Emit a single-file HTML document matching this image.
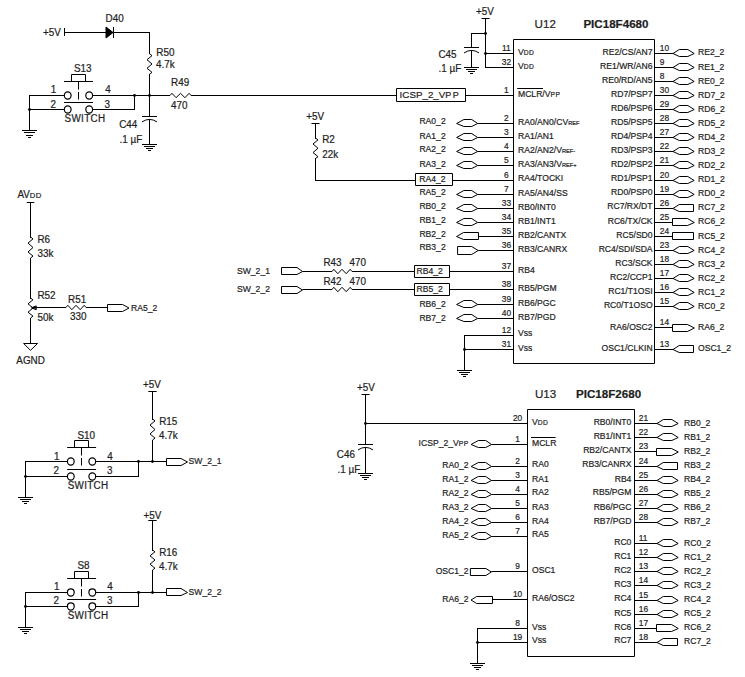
<!DOCTYPE html>
<html><head><meta charset="utf-8"><style>
html,body{margin:0;padding:0;background:#fff;}
svg{display:block;}
text{fill:#1e1e1e;stroke:#1e1e1e;stroke-width:0.2px;font-family:"Liberation Sans",sans-serif;}
</style></head><body>
<svg width="745" height="677" viewBox="0 0 745 677">
<rect width="745" height="677" fill="#fff"/>
<g stroke="#000" stroke-width="1" fill="none">
<text transform="translate(43,36.4) scale(1,1.03)" font-size="9.9">+5V</text>
<line x1="64.5" y1="28" x2="64.5" y2="36"/>
<line x1="64" y1="32.5" x2="106" y2="32.5"/>
<polygon points="106,27 106,38 113,32.5" fill="#000"/>
<line x1="113.5" y1="27" x2="113.5" y2="38"/>
<line x1="113" y1="32.5" x2="150" y2="32.5"/>
<text transform="translate(105.6,22.4) scale(1,1.03)" font-size="9.9">D40</text>
<line x1="149.5" y1="32" x2="149.5" y2="54"/>
<polyline points="149.5,53.8 152.0,55.635999999999996 147.0,59.716 152.0,64.0 147.0,68.284 152.0,72.364 149.5,74.2" fill="none"/>
<line x1="149.5" y1="74" x2="149.5" y2="117"/>
<text transform="translate(156.3,56) scale(1,1.03)" font-size="9.9">R50</text>
<text transform="translate(156.0,67.6) scale(1,1.03)" font-size="9.9">4.7k</text>
<line x1="64" y1="81.5" x2="93" y2="81.5"/>
<polyline points="71.5,81.5 71.5,74.5 85.5,74.5 85.5,81.5" fill="none"/>
<line x1="78.5" y1="82" x2="78.5" y2="89.5"/>
<line x1="78.5" y1="92" x2="78.5" y2="99.5"/>
<line x1="64" y1="102.5" x2="93" y2="102.5"/>
<ellipse cx="67.7" cy="95.5" rx="3.4" ry="3.6" fill="none" stroke-width="1.2"/>
<ellipse cx="67.7" cy="109.5" rx="3.4" ry="3.6" fill="none" stroke-width="1.2"/>
<ellipse cx="89.2" cy="95.5" rx="3.4" ry="3.6" fill="none" stroke-width="1.2"/>
<ellipse cx="89.2" cy="109.5" rx="3.4" ry="3.6" fill="none" stroke-width="1.2"/>
<text transform="translate(74.0,71.7) scale(1,1.03)" font-size="9.9">S13</text>
<text transform="translate(64.6,121.8) scale(1,1.03)" font-size="9.9" letter-spacing="0.3">SWITCH</text>
<text transform="translate(50.8,92.8) scale(1,1.03)" font-size="9.9">1</text>
<text transform="translate(50.4,107.7) scale(1,1.03)" font-size="9.9">2</text>
<text transform="translate(105.2,92.8) scale(1,1.03)" font-size="9.9">4</text>
<text transform="translate(104.4,107.7) scale(1,1.03)" font-size="9.9">3</text>
<line x1="29" y1="95.5" x2="64.3" y2="95.5"/>
<line x1="29" y1="109.5" x2="64.3" y2="109.5"/>
<line x1="29.5" y1="95" x2="29.5" y2="131"/>
<line x1="22" y1="130.50" x2="37" y2="130.50"/>
<line x1="24" y1="132.50" x2="35" y2="132.50"/>
<line x1="26" y1="135.50" x2="33" y2="135.50"/>
<line x1="28" y1="137.50" x2="31" y2="137.50"/>
<circle cx="29.5" cy="109.5" r="1.4" fill="#000" stroke="none"/>
<line x1="92.7" y1="95.5" x2="170" y2="95.5"/>
<line x1="92.7" y1="109.5" x2="134.5" y2="109.5"/>
<line x1="134.5" y1="95" x2="134.5" y2="110"/>
<circle cx="134.5" cy="95.5" r="1.4" fill="#000" stroke="none"/>
<circle cx="149.5" cy="95.5" r="1.4" fill="#000" stroke="none"/>
<polyline points="170,95.5 171.89,93.3 176.09,97.7 180.5,93.3 184.91,97.7 189.11,93.3 191.0,95.5" fill="none"/>
<line x1="191" y1="95.5" x2="396.5" y2="95.5"/>
<text transform="translate(171,86) scale(1,1.03)" font-size="9.9">R49</text>
<text transform="translate(171,109) scale(1,1.03)" font-size="9.9">470</text>
<line x1="142.0" y1="116.5" x2="157.0" y2="116.5"/>
<path d="M142.0,121.9 Q149.5,116.9 157.0,121.9" fill="none"/>
<line x1="149.5" y1="119.4" x2="149.5" y2="145"/>
<line x1="142" y1="144.50" x2="157" y2="144.50"/>
<line x1="144" y1="146.50" x2="155" y2="146.50"/>
<line x1="146" y1="148.50" x2="153" y2="148.50"/>
<line x1="148" y1="150.50" x2="151" y2="150.50"/>
<text transform="translate(119.2,127.7) scale(1,1.03)" font-size="9.9">C44</text>
<text transform="translate(119.6,142.6) scale(1,1.03)" font-size="9.9">.1 µF</text>
<polygon points="396.5,88.5 465.5,88.5 465.5,101.5 396.5,101.5" fill="none"/>
<text x="399.6" y="97.7" font-size="9.8">ICSP_2_V<tspan font-size="9" letter-spacing="1.4">PP</tspan></text>
<line x1="465.5" y1="95.5" x2="513.5" y2="95.5"/>
<text transform="translate(476,15.2) scale(1,1.03)" font-size="9.9">+5V</text>
<line x1="481.5" y1="18.5" x2="489.5" y2="18.5"/>
<line x1="485.5" y1="18" x2="485.5" y2="68"/>
<line x1="471" y1="33.5" x2="485.5" y2="33.5"/>
<circle cx="485.5" cy="33.5" r="1.4" fill="#000" stroke="none"/>
<circle cx="485.5" cy="53.5" r="1.4" fill="#000" stroke="none"/>
<line x1="471.5" y1="33" x2="471.5" y2="48"/>
<line x1="464.0" y1="47.5" x2="479.0" y2="47.5"/>
<path d="M464.0,52.9 Q471.5,47.9 479.0,52.9" fill="none"/>
<line x1="471.5" y1="50.4" x2="471.5" y2="68"/>
<line x1="464" y1="67.50" x2="479" y2="67.50"/>
<line x1="466" y1="69.50" x2="477" y2="69.50"/>
<line x1="468" y1="71.50" x2="475" y2="71.50"/>
<line x1="470" y1="73.50" x2="473" y2="73.50"/>
<line x1="485" y1="53.5" x2="513.5" y2="53.5"/>
<line x1="485" y1="67.5" x2="513.5" y2="67.5"/>
<text transform="translate(438.4,58) scale(1,1.03)" font-size="9.9">C45</text>
<text transform="translate(438.6,72) scale(1,1.03)" font-size="9.9">.1 µF</text>
<text transform="translate(306.2,120) scale(1,1.03)" font-size="9.9">+5V</text>
<line x1="311.5" y1="123.5" x2="319.5" y2="123.5"/>
<line x1="315.5" y1="123" x2="315.5" y2="139"/>
<polyline points="315.5,138.0 318.0,139.845 313.0,143.945 318.0,148.25 313.0,152.555 318.0,156.655 315.5,158.5" fill="none"/>
<line x1="315.5" y1="158" x2="315.5" y2="181"/>
<line x1="315" y1="180.5" x2="415.5" y2="180.5"/>
<text transform="translate(322.2,143) scale(1,1.03)" font-size="9.9">R2</text>
<text transform="translate(322.2,158) scale(1,1.03)" font-size="9.9">22k</text>
<text transform="translate(17.4,198) scale(1,1.03)" font-size="9.9">AV<tspan font-size="7.72" letter-spacing="0.45">DD</tspan></text>
<line x1="26.7" y1="202.5" x2="34.3" y2="202.5"/>
<line x1="30.5" y1="202" x2="30.5" y2="238"/>
<polyline points="30.5,237 33.0,238.89 28.0,243.09 33.0,247.5 28.0,251.91 33.0,256.11 30.5,258.0" fill="none"/>
<line x1="30.5" y1="258" x2="30.5" y2="299"/>
<polyline points="30.5,298 33.0,299.8 28.0,303.8 33.0,308.0 28.0,312.2 33.0,316.2 30.5,318.0" fill="none"/>
<line x1="30.5" y1="318" x2="30.5" y2="344"/>
<polygon points="23.6,343.5 37.6,343.5 30.5,350.3" fill="none"/>
<text transform="translate(16.3,364) scale(1,1.03)" font-size="9.9">AGND</text>
<text transform="translate(37.4,243) scale(1,1.03)" font-size="9.9">R6</text>
<text transform="translate(37.4,257.3) scale(1,1.03)" font-size="9.9">33k</text>
<text transform="translate(37.4,299) scale(1,1.03)" font-size="9.9">R52</text>
<text transform="translate(37.4,321) scale(1,1.03)" font-size="9.9">50k</text>
<polygon points="31.4,307.8 36.2,305.9 36.2,309.7" fill="#555"/>
<line x1="33" y1="307.5" x2="66" y2="307.5"/>
<polyline points="66,307.5 67.8,305.3 71.8,309.7 76.0,305.3 80.2,309.7 84.2,305.3 86.0,307.5" fill="none"/>
<line x1="86" y1="307.5" x2="107.5" y2="307.5"/>
<polygon points="107.5,304.5 122.5,304.5 129.0,308.0 122.5,311.5 107.5,311.5" fill="none"/>
<text transform="translate(68,303) scale(1,1.03)" font-size="9.9">R51</text>
<text transform="translate(70,320) scale(1,1.03)" font-size="9.9">330</text>
<text x="131" y="310.5" font-size="8.6">RA5_2</text>
<text x="237" y="273.6" font-size="8.6">SW_2_1</text>
<polygon points="281.5,267.5 297.0,267.5 302.5,271.5 297.0,274.5 281.5,274.5" fill="none"/>
<line x1="302.5" y1="271.5" x2="332" y2="271.5"/>
<polyline points="332,271.5 333.8,269.3 337.8,273.7 342.0,269.3 346.2,273.7 350.2,269.3 352.0,271.5" fill="none"/>
<line x1="352" y1="271.5" x2="414.5" y2="271.5"/>
<text transform="translate(323.4,266.3) scale(1,1.03)" font-size="9.9">R43</text>
<text transform="translate(349.4,266.3) scale(1,1.03)" font-size="9.9">470</text>
<text x="237" y="291.8" font-size="8.6">SW_2_2</text>
<polygon points="281.5,286.5 297.0,286.5 302.5,290.0 297.0,293.5 281.5,293.5" fill="none"/>
<line x1="302.5" y1="289.5" x2="332" y2="289.5"/>
<polyline points="332,289.5 333.8,287.3 337.8,291.7 342.0,287.3 346.2,291.7 350.2,287.3 352.0,289.5" fill="none"/>
<line x1="352" y1="289.5" x2="414.5" y2="289.5"/>
<text transform="translate(323.4,285) scale(1,1.03)" font-size="9.9">R42</text>
<text transform="translate(349.4,285) scale(1,1.03)" font-size="9.9">470</text>
<line x1="67.1" y1="447.5" x2="96.1" y2="447.5"/>
<polyline points="74.5,447.5 74.5,440.5 88.5,440.5 88.5,447.5" fill="none"/>
<line x1="81.5" y1="448" x2="81.5" y2="455.5"/>
<line x1="81.5" y1="458" x2="81.5" y2="465.5"/>
<line x1="67.1" y1="469.5" x2="96.1" y2="469.5"/>
<ellipse cx="70.8" cy="461.5" rx="3.4" ry="3.6" fill="none" stroke-width="1.2"/>
<ellipse cx="70.8" cy="476.5" rx="3.4" ry="3.6" fill="none" stroke-width="1.2"/>
<ellipse cx="92.3" cy="461.5" rx="3.4" ry="3.6" fill="none" stroke-width="1.2"/>
<ellipse cx="92.3" cy="476.5" rx="3.4" ry="3.6" fill="none" stroke-width="1.2"/>
<text transform="translate(77.5,439) scale(1,1.03)" font-size="9.9">S10</text>
<text transform="translate(67.69999999999999,488.9) scale(1,1.03)" font-size="9.9" letter-spacing="0.3">SWITCH</text>
<text transform="translate(54.0,460.1) scale(1,1.03)" font-size="9.9">1</text>
<text transform="translate(53.6,474.0) scale(1,1.03)" font-size="9.9">2</text>
<text transform="translate(107.2,460.1) scale(1,1.03)" font-size="9.9">4</text>
<text transform="translate(107.0,474.0) scale(1,1.03)" font-size="9.9">3</text>
<line x1="25" y1="461.5" x2="67.4" y2="461.5"/>
<line x1="25" y1="476.5" x2="67.4" y2="476.5"/>
<line x1="25.5" y1="461" x2="25.5" y2="498"/>
<line x1="18" y1="497.50" x2="33" y2="497.50"/>
<line x1="20" y1="499.50" x2="31" y2="499.50"/>
<line x1="22" y1="501.50" x2="29" y2="501.50"/>
<line x1="24" y1="503.50" x2="27" y2="503.50"/>
<circle cx="25.5" cy="476.5" r="1.4" fill="#000" stroke="none"/>
<line x1="95.8" y1="461.5" x2="166" y2="461.5"/>
<line x1="95.8" y1="476.5" x2="138.5" y2="476.5"/>
<line x1="138.5" y1="461" x2="138.5" y2="477"/>
<circle cx="138.5" cy="461.5" r="1.4" fill="#000" stroke="none"/>
<circle cx="152.5" cy="461.5" r="1.4" fill="#000" stroke="none"/>
<text transform="translate(143,387.8) scale(1,1.03)" font-size="9.9">+5V</text>
<line x1="148.3" y1="391.5" x2="156.7" y2="391.5"/>
<line x1="152.5" y1="391" x2="152.5" y2="420"/>
<polyline points="152.5,419 155.0,420.89 150.0,425.09 155.0,429.5 150.0,433.91 155.0,438.11 152.5,440.0" fill="none"/>
<line x1="152.5" y1="440" x2="152.5" y2="462"/>
<text transform="translate(159.2,425) scale(1,1.03)" font-size="9.9">R15</text>
<text transform="translate(158.9,439) scale(1,1.03)" font-size="9.9">4.7k</text>
<polygon points="166.5,458.5 181.0,458.5 187.5,462.0 181.0,465.5 166.5,465.5" fill="none"/>
<text x="188.6" y="464.2" font-size="8.6">SW_2_1</text>
<line x1="67.1" y1="578.5" x2="96.1" y2="578.5"/>
<polyline points="74.5,578.5 74.5,571.5 88.5,571.5 88.5,578.5" fill="none"/>
<line x1="81.5" y1="579" x2="81.5" y2="586.5"/>
<line x1="81.5" y1="589" x2="81.5" y2="596.5"/>
<line x1="67.1" y1="599.5" x2="96.1" y2="599.5"/>
<ellipse cx="70.8" cy="592.5" rx="3.4" ry="3.6" fill="none" stroke-width="1.2"/>
<ellipse cx="70.8" cy="606.5" rx="3.4" ry="3.6" fill="none" stroke-width="1.2"/>
<ellipse cx="92.3" cy="592.5" rx="3.4" ry="3.6" fill="none" stroke-width="1.2"/>
<ellipse cx="92.3" cy="606.5" rx="3.4" ry="3.6" fill="none" stroke-width="1.2"/>
<text transform="translate(77.5,569) scale(1,1.03)" font-size="9.9">S8</text>
<text transform="translate(67.69999999999999,618.9) scale(1,1.03)" font-size="9.9" letter-spacing="0.3">SWITCH</text>
<text transform="translate(54.0,590.1) scale(1,1.03)" font-size="9.9">1</text>
<text transform="translate(53.6,604.0) scale(1,1.03)" font-size="9.9">2</text>
<text transform="translate(107.2,590.1) scale(1,1.03)" font-size="9.9">4</text>
<text transform="translate(107.0,604.0) scale(1,1.03)" font-size="9.9">3</text>
<line x1="25" y1="592.5" x2="67.4" y2="592.5"/>
<line x1="25" y1="606.5" x2="67.4" y2="606.5"/>
<line x1="25.5" y1="592" x2="25.5" y2="628"/>
<line x1="18" y1="627.50" x2="33" y2="627.50"/>
<line x1="20" y1="629.50" x2="31" y2="629.50"/>
<line x1="22" y1="631.50" x2="29" y2="631.50"/>
<line x1="24" y1="633.50" x2="27" y2="633.50"/>
<circle cx="25.5" cy="606.5" r="1.4" fill="#000" stroke="none"/>
<line x1="95.8" y1="592.5" x2="166" y2="592.5"/>
<line x1="95.8" y1="606.5" x2="138.5" y2="606.5"/>
<line x1="138.5" y1="592" x2="138.5" y2="607"/>
<circle cx="138.5" cy="592.5" r="1.4" fill="#000" stroke="none"/>
<circle cx="152.5" cy="592.5" r="1.4" fill="#000" stroke="none"/>
<text transform="translate(143.4,518.5) scale(1,1.03)" font-size="9.9">+5V</text>
<line x1="148.3" y1="520.5" x2="156.7" y2="520.5"/>
<line x1="152.5" y1="520" x2="152.5" y2="551"/>
<polyline points="152.5,550 155.0,551.8 150.0,555.8 155.0,560.0 150.0,564.2 155.0,568.2 152.5,570.0" fill="none"/>
<line x1="152.5" y1="570" x2="152.5" y2="593"/>
<text transform="translate(159.2,556) scale(1,1.03)" font-size="9.9">R16</text>
<text transform="translate(158.9,570) scale(1,1.03)" font-size="9.9">4.7k</text>
<polygon points="166.5,588.5 181.0,588.5 187.5,592.5 181.0,595.5 166.5,595.5" fill="none"/>
<text x="188.6" y="595.0" font-size="8.6">SW_2_2</text>
<polygon points="513.5,39.5 654.5,39.5 654.5,363.5 513.5,363.5" fill="none"/>
<text x="534.6" y="28.2" font-size="11.6">U12</text>
<text x="583.4" y="28.2" font-size="11.6" font-weight="bold">PIC18F4680</text>
<text x="506.4" y="51.2" font-size="8.4" text-anchor="middle">11</text>
<text x="518.0" y="54.9" font-size="8.6">V<tspan font-size="6.71" letter-spacing="0.45">DD</tspan></text>
<text x="506.4" y="65.2" font-size="8.4" text-anchor="middle">32</text>
<text x="518.0" y="68.9" font-size="8.6">V<tspan font-size="6.71" letter-spacing="0.45">DD</tspan></text>
<text x="506.4" y="93.2" font-size="8.4" text-anchor="middle">1</text>
<text x="518.0" y="96.9" font-size="8.6"><tspan>MCLR</tspan>/V<tspan font-size="6.71" letter-spacing="0.45">PP</tspan></text>
<text x="506.4" y="121.2" font-size="8.4" text-anchor="middle">2</text>
<text x="518.0" y="124.9" font-size="8.6">RA0/AN0/CV<tspan font-size="5.68">REF</tspan></text>
<polygon points="477.7,123.5 471.7,119.5 463.9,119.5 456.59999999999997,123.5 463.9,126.5 471.7,126.5" fill="none"/>
<line x1="477.7" y1="123.5" x2="513.5" y2="123.5"/>
<text x="419.4" y="124.0" font-size="8.6">RA0_2</text>
<text x="506.4" y="135.2" font-size="8.4" text-anchor="middle">3</text>
<text x="518.0" y="138.9" font-size="8.6">RA1/AN1</text>
<polygon points="477.7,137.5 471.7,133.5 463.9,133.5 456.59999999999997,137.5 463.9,140.5 471.7,140.5" fill="none"/>
<line x1="477.7" y1="137.5" x2="513.5" y2="137.5"/>
<text x="419.4" y="139.0" font-size="8.6">RA1_2</text>
<text x="506.4" y="149.2" font-size="8.4" text-anchor="middle">4</text>
<text x="518.0" y="152.9" font-size="8.6">RA2/AN2/V<tspan font-size="5.68">REF-</tspan></text>
<polygon points="477.7,151.5 471.7,147.5 463.9,147.5 456.59999999999997,151.5 463.9,154.5 471.7,154.5" fill="none"/>
<line x1="477.7" y1="151.5" x2="513.5" y2="151.5"/>
<text x="419.4" y="152.1" font-size="8.6">RA2_2</text>
<text x="506.4" y="163.2" font-size="8.4" text-anchor="middle">5</text>
<text x="518.0" y="166.9" font-size="8.6">RA3/AN3/V<tspan font-size="5.68">REF+</tspan></text>
<polygon points="477.7,165.5 471.7,161.5 463.9,161.5 456.59999999999997,165.5 463.9,168.5 471.7,168.5" fill="none"/>
<line x1="477.7" y1="165.5" x2="513.5" y2="165.5"/>
<text x="419.4" y="166.9" font-size="8.6">RA3_2</text>
<text x="506.4" y="178.2" font-size="8.4" text-anchor="middle">6</text>
<text x="518.0" y="180.9" font-size="8.6">RA4/TOCKI</text>
<text x="506.4" y="192.2" font-size="8.4" text-anchor="middle">7</text>
<text x="518.0" y="195.9" font-size="8.6">RA5/AN4/SS</text>
<polygon points="477.7,194.5 471.7,190.5 463.9,190.5 456.59999999999997,194.5 463.9,197.5 471.7,197.5" fill="none"/>
<line x1="477.7" y1="194.5" x2="513.5" y2="194.5"/>
<text x="419.4" y="195.1" font-size="8.6">RA5_2</text>
<text x="506.4" y="206.2" font-size="8.4" text-anchor="middle">33</text>
<text x="518.0" y="209.9" font-size="8.6">RB0/INT0</text>
<polygon points="477.7,208.5 471.7,204.5 463.9,204.5 456.59999999999997,208.5 463.9,211.5 471.7,211.5" fill="none"/>
<line x1="477.7" y1="208.5" x2="513.5" y2="208.5"/>
<text x="419.4" y="208.9" font-size="8.6">RB0_2</text>
<text x="506.4" y="220.2" font-size="8.4" text-anchor="middle">34</text>
<text x="518.0" y="223.9" font-size="8.6">RB1/INT1</text>
<polygon points="477.7,222.5 471.7,218.5 463.9,218.5 456.59999999999997,222.5 463.9,225.5 471.7,225.5" fill="none"/>
<line x1="477.7" y1="222.5" x2="513.5" y2="222.5"/>
<text x="419.4" y="222.8" font-size="8.6">RB1_2</text>
<text x="506.4" y="234.2" font-size="8.4" text-anchor="middle">35</text>
<text x="518.0" y="237.9" font-size="8.6">RB2/CANTX</text>
<polygon points="478.5,232.5 463.5,232.5 456.5,236.5 463.5,239.5 478.5,239.5" fill="none"/>
<line x1="478.5" y1="236.5" x2="513.5" y2="236.5"/>
<text x="419.4" y="236.7" font-size="8.6">RB2_2</text>
<text x="506.4" y="248.2" font-size="8.4" text-anchor="middle">36</text>
<text x="518.0" y="251.9" font-size="8.6">RB3/CANRX</text>
<polygon points="478.2,250.5 471.6,246.5 457.6,246.5 457.6,254.5 471.6,254.5" fill="none"/>
<line x1="478.2" y1="250.5" x2="513.5" y2="250.5"/>
<text x="419.4" y="250.4" font-size="8.6">RB3_2</text>
<text x="506.4" y="269.2" font-size="8.4" text-anchor="middle">37</text>
<text x="518.0" y="272.9" font-size="8.6">RB4</text>
<text x="506.4" y="287.2" font-size="8.4" text-anchor="middle">38</text>
<text x="518.0" y="290.9" font-size="8.6">RB5/PGM</text>
<text x="506.4" y="302.2" font-size="8.4" text-anchor="middle">39</text>
<text x="518.0" y="305.9" font-size="8.6">RB6/PGC</text>
<polygon points="477.7,304.5 471.7,300.5 463.9,300.5 456.59999999999997,304.5 463.9,307.5 471.7,307.5" fill="none"/>
<line x1="477.7" y1="304.5" x2="513.5" y2="304.5"/>
<text x="419.4" y="307.0" font-size="8.6">RB6_2</text>
<text x="506.4" y="316.2" font-size="8.4" text-anchor="middle">40</text>
<text x="518.0" y="319.9" font-size="8.6">RB7/PGD</text>
<polygon points="477.7,318.5 471.7,314.5 463.9,314.5 456.59999999999997,318.5 463.9,321.5 471.7,321.5" fill="none"/>
<line x1="477.7" y1="318.5" x2="513.5" y2="318.5"/>
<text x="419.4" y="320.9" font-size="8.6">RB7_2</text>
<text x="506.4" y="333.2" font-size="8.4" text-anchor="middle">12</text>
<text x="518.0" y="335.9" font-size="8.6">V<tspan font-size="8.60">ss</tspan></text>
<text x="506.4" y="347.2" font-size="8.4" text-anchor="middle">31</text>
<text x="518.0" y="350.9" font-size="8.6">V<tspan font-size="8.60">ss</tspan></text>
<line x1="517.2" y1="88.5" x2="543" y2="88.5"/>
<polygon points="415.5,173.5 452.5,173.5 452.5,185.5 415.5,185.5" fill="none"/>
<text x="419.3" y="182" font-size="8.6">RA4_2</text>
<line x1="452.5" y1="180.5" x2="513.5" y2="180.5"/>
<polygon points="414.5,265.5 449.5,265.5 449.5,277.5 414.5,277.5" fill="none"/>
<text x="416.6" y="274" font-size="8.6">RB4_2</text>
<line x1="449.5" y1="271.5" x2="513.5" y2="271.5"/>
<polygon points="414.5,283.5 449.5,283.5 449.5,295.5 414.5,295.5" fill="none"/>
<text x="416.6" y="292" font-size="8.6">RB5_2</text>
<line x1="449.5" y1="289.5" x2="513.5" y2="289.5"/>
<line x1="464" y1="335.5" x2="513.5" y2="335.5"/>
<line x1="464" y1="349.5" x2="513.5" y2="349.5"/>
<line x1="464.5" y1="335" x2="464.5" y2="371"/>
<circle cx="464.5" cy="349.5" r="1.4" fill="#000" stroke="none"/>
<line x1="457" y1="370.50" x2="472" y2="370.50"/>
<line x1="459" y1="372.50" x2="470" y2="372.50"/>
<line x1="461" y1="374.50" x2="468" y2="374.50"/>
<line x1="463" y1="376.50" x2="466" y2="376.50"/>
<text x="659.8" y="51" font-size="8.4">10</text>
<text x="652.6" y="54.9" font-size="8.6" text-anchor="end">RE2/CS/AN7</text>
<line x1="654.5" y1="53.5" x2="673.0" y2="53.5"/>
<polygon points="673.0,53.5 679.3,49.5 687.8,49.5 694.2,53.5 687.8,56.5 679.3,56.5" fill="none"/>
<text x="698.0" y="54.7" font-size="8.6">RE2_2</text>
<text x="659.8" y="65" font-size="8.4">9</text>
<text x="652.6" y="68.9" font-size="8.6" text-anchor="end">RE1/WR/AN6</text>
<line x1="654.5" y1="67.5" x2="673.0" y2="67.5"/>
<polygon points="673.0,67.5 679.3,63.5 687.8,63.5 694.2,67.5 687.8,70.5 679.3,70.5" fill="none"/>
<text x="698.0" y="69.8" font-size="8.6">RE1_2</text>
<text x="659.8" y="79" font-size="8.4">8</text>
<text x="652.6" y="82.9" font-size="8.6" text-anchor="end">RE0/RD/AN5</text>
<line x1="654.5" y1="81.5" x2="673.0" y2="81.5"/>
<polygon points="673.0,81.5 679.3,77.5 687.8,77.5 694.2,81.5 687.8,84.5 679.3,84.5" fill="none"/>
<text x="698.0" y="84.0" font-size="8.6">RE0_2</text>
<text x="659.8" y="93" font-size="8.4">30</text>
<text x="652.6" y="96.9" font-size="8.6" text-anchor="end">RD7/PSP7</text>
<line x1="654.5" y1="95.5" x2="673.0" y2="95.5"/>
<polygon points="673.0,95.5 679.3,91.5 687.8,91.5 694.2,95.5 687.8,98.5 679.3,98.5" fill="none"/>
<text x="698.0" y="98.2" font-size="8.6">RD7_2</text>
<text x="659.8" y="107" font-size="8.4">29</text>
<text x="652.6" y="110.9" font-size="8.6" text-anchor="end">RD6/PSP6</text>
<line x1="654.5" y1="109.5" x2="673.0" y2="109.5"/>
<polygon points="673.0,109.5 679.3,105.5 687.8,105.5 694.2,109.5 687.8,112.5 679.3,112.5" fill="none"/>
<text x="698.0" y="111.9" font-size="8.6">RD6_2</text>
<text x="659.8" y="121" font-size="8.4">28</text>
<text x="652.6" y="124.9" font-size="8.6" text-anchor="end">RD5/PSP5</text>
<line x1="654.5" y1="123.5" x2="673.0" y2="123.5"/>
<polygon points="673.0,123.5 679.3,119.5 687.8,119.5 694.2,123.5 687.8,126.5 679.3,126.5" fill="none"/>
<text x="698.0" y="126.0" font-size="8.6">RD5_2</text>
<text x="659.8" y="135" font-size="8.4">27</text>
<text x="652.6" y="138.9" font-size="8.6" text-anchor="end">RD4/PSP4</text>
<line x1="654.5" y1="137.5" x2="673.0" y2="137.5"/>
<polygon points="673.0,137.5 679.3,133.5 687.8,133.5 694.2,137.5 687.8,140.5 679.3,140.5" fill="none"/>
<text x="698.0" y="140.0" font-size="8.6">RD4_2</text>
<text x="659.8" y="149" font-size="8.4">22</text>
<text x="652.6" y="152.9" font-size="8.6" text-anchor="end">RD3/PSP3</text>
<line x1="654.5" y1="151.5" x2="673.0" y2="151.5"/>
<polygon points="673.0,151.5 679.3,147.5 687.8,147.5 694.2,151.5 687.8,154.5 679.3,154.5" fill="none"/>
<text x="698.0" y="154.0" font-size="8.6">RD3_2</text>
<text x="659.8" y="163" font-size="8.4">21</text>
<text x="652.6" y="166.9" font-size="8.6" text-anchor="end">RD2/PSP2</text>
<line x1="654.5" y1="165.5" x2="673.0" y2="165.5"/>
<polygon points="673.0,165.5 679.3,161.5 687.8,161.5 694.2,165.5 687.8,168.5 679.3,168.5" fill="none"/>
<text x="698.0" y="167.9" font-size="8.6">RD2_2</text>
<text x="659.8" y="178" font-size="8.4">20</text>
<text x="652.6" y="181.0" font-size="8.6" text-anchor="end">RD1/PSP1</text>
<line x1="654.5" y1="180.5" x2="673.0" y2="180.5"/>
<polygon points="673.0,180.5 679.3,176.5 687.8,176.5 694.2,180.5 687.8,183.5 679.3,183.5" fill="none"/>
<text x="698.0" y="182.0" font-size="8.6">RD1_2</text>
<text x="659.8" y="192" font-size="8.4">19</text>
<text x="652.6" y="195.4" font-size="8.6" text-anchor="end">RD0/PSP0</text>
<line x1="654.5" y1="194.5" x2="673.0" y2="194.5"/>
<polygon points="673.0,194.5 679.3,190.5 687.8,190.5 694.2,194.5 687.8,197.5 679.3,197.5" fill="none"/>
<text x="698.0" y="196.0" font-size="8.6">RD0_2</text>
<text x="659.8" y="206" font-size="8.4">26</text>
<text x="652.6" y="209.4" font-size="8.6" text-anchor="end">RC7/RX/DT</text>
<line x1="654.5" y1="208.5" x2="673.0" y2="208.5"/>
<polygon points="673.0,208.5 679.2,204.5 693.5,204.5 693.5,211.5 679.2,211.5" fill="none"/>
<text x="698.0" y="210.0" font-size="8.6">RC7_2</text>
<text x="659.8" y="220" font-size="8.4">25</text>
<text x="652.6" y="223.9" font-size="8.6" text-anchor="end">RC6/TX/CK</text>
<line x1="654.5" y1="222.5" x2="672.5" y2="222.5"/>
<polygon points="672.5,218.5 687.5,218.5 694.3,222.5 687.5,225.5 672.5,225.5" fill="none"/>
<text x="698.0" y="224.1" font-size="8.6">RC6_2</text>
<text x="659.8" y="234" font-size="8.4">24</text>
<text x="652.6" y="237.9" font-size="8.6" text-anchor="end">RC5/SD0</text>
<line x1="654.5" y1="236.5" x2="672.5" y2="236.5"/>
<polygon points="672.5,232.5 693.5,232.5 693.5,239.5 672.5,239.5" fill="none"/>
<text x="698.0" y="239.0" font-size="8.6">RC5_2</text>
<text x="659.8" y="248" font-size="8.4">23</text>
<text x="652.6" y="251.9" font-size="8.6" text-anchor="end">RC4/SDI/SDA</text>
<line x1="654.5" y1="250.5" x2="673.0" y2="250.5"/>
<polygon points="673.0,250.5 679.3,246.5 687.8,246.5 694.2,250.5 687.8,253.5 679.3,253.5" fill="none"/>
<text x="698.0" y="253.2" font-size="8.6">RC4_2</text>
<text x="659.8" y="262" font-size="8.4">18</text>
<text x="652.6" y="265.9" font-size="8.6" text-anchor="end">RC3/SCK</text>
<line x1="654.5" y1="264.5" x2="673.0" y2="264.5"/>
<polygon points="673.0,264.5 679.3,260.5 687.8,260.5 694.2,264.5 687.8,267.5 679.3,267.5" fill="none"/>
<text x="698.0" y="267.1" font-size="8.6">RC3_2</text>
<text x="659.8" y="276" font-size="8.4">17</text>
<text x="652.6" y="279.9" font-size="8.6" text-anchor="end">RC2/CCP1</text>
<line x1="654.5" y1="278.5" x2="673.0" y2="278.5"/>
<polygon points="673.0,278.5 679.3,274.5 687.8,274.5 694.2,278.5 687.8,281.5 679.3,281.5" fill="none"/>
<text x="698.0" y="281.2" font-size="8.6">RC2_2</text>
<text x="659.8" y="290" font-size="8.4">16</text>
<text x="652.6" y="293.9" font-size="8.6" text-anchor="end">RC1/T1OSI</text>
<line x1="654.5" y1="292.5" x2="673.0" y2="292.5"/>
<polygon points="673.0,292.5 679.3,288.5 687.8,288.5 694.2,292.5 687.8,295.5 679.3,295.5" fill="none"/>
<text x="698.0" y="295.2" font-size="8.6">RC1_2</text>
<text x="659.8" y="304" font-size="8.4">15</text>
<text x="652.6" y="307.9" font-size="8.6" text-anchor="end">RC0/T1OSO</text>
<line x1="654.5" y1="306.5" x2="673.0" y2="306.5"/>
<polygon points="673.0,306.5 679.3,302.5 687.8,302.5 694.2,306.5 687.8,309.5 679.3,309.5" fill="none"/>
<text x="698.0" y="309.0" font-size="8.6">RC0_2</text>
<text x="659.8" y="325" font-size="8.4">14</text>
<text x="652.6" y="329.6" font-size="8.6" text-anchor="end">RA6/OSC2</text>
<line x1="654.5" y1="327.5" x2="672.5" y2="327.5"/>
<polygon points="672.5,324.5 687.5,324.5 694.3,328.0 687.5,331.5 672.5,331.5" fill="none"/>
<text x="698.0" y="330.0" font-size="8.6">RA6_2</text>
<text x="659.8" y="347" font-size="8.4">13</text>
<text x="652.6" y="350.9" font-size="8.6" text-anchor="end">OSC1/CLKIN</text>
<line x1="654.5" y1="349.5" x2="673.0" y2="349.5"/>
<polygon points="673.0,349.5 679.2,345.5 693.5,345.5 693.5,352.5 679.2,352.5" fill="none"/>
<text x="698.0" y="350.8" font-size="8.6">OSC1_2</text>
<polygon points="527.5,409.5 634.5,409.5 634.5,656.5 527.5,656.5" fill="none"/>
<text x="535" y="397.8" font-size="11.6">U13</text>
<text x="576" y="397.8" font-size="11.6" font-weight="bold">PIC18F2680</text>
<text transform="translate(357,391) scale(1,1.03)" font-size="9.9">+5V</text>
<line x1="361.5" y1="394.5" x2="369.5" y2="394.5"/>
<line x1="365.5" y1="394" x2="365.5" y2="445"/>
<circle cx="365.5" cy="423.5" r="1.4" fill="#000" stroke="none"/>
<line x1="365" y1="423.5" x2="527.5" y2="423.5"/>
<line x1="358.0" y1="444.5" x2="373.0" y2="444.5"/>
<path d="M358.0,449.9 Q365.5,444.9 373.0,449.9" fill="none"/>
<line x1="365.5" y1="447.4" x2="365.5" y2="474"/>
<line x1="358" y1="473.50" x2="373" y2="473.50"/>
<line x1="360" y1="475.50" x2="371" y2="475.50"/>
<line x1="362" y1="477.50" x2="369" y2="477.50"/>
<line x1="364" y1="479.50" x2="367" y2="479.50"/>
<text transform="translate(336.8,458) scale(1,1.03)" font-size="9.9">C46</text>
<text transform="translate(337.5,472.6) scale(1,1.03)" font-size="9.9">.1 µF</text>
<text x="517.6" y="421.2" font-size="8.4" text-anchor="middle">20</text>
<text x="532.0" y="424.9" font-size="8.6">V<tspan font-size="6.71" letter-spacing="0.45">DD</tspan></text>
<text x="517.6" y="442.2" font-size="8.4" text-anchor="middle">1</text>
<text x="532.0" y="445.9" font-size="8.6">MCLR</text>
<polygon points="491.5,444.5 485.7,440.5 478.3,440.5 471.1,444.5 478.3,447.5 485.7,447.5" fill="none"/>
<line x1="491.5" y1="444.5" x2="527.5" y2="444.5"/>
<text x="468.6" y="446.1" font-size="8.6" text-anchor="end">ICSP_2_V<tspan font-size="6.71" letter-spacing="0.45">PP</tspan></text>
<text x="517.6" y="464.2" font-size="8.4" text-anchor="middle">2</text>
<text x="532.0" y="467.1" font-size="8.6">RA0</text>
<polygon points="491.5,466.5 485.7,462.5 478.3,462.5 471.1,466.5 478.3,469.5 485.7,469.5" fill="none"/>
<line x1="491.5" y1="466.5" x2="527.5" y2="466.5"/>
<text x="468.6" y="468.1" font-size="8.6" text-anchor="end">RA0_2</text>
<text x="517.6" y="478.2" font-size="8.4" text-anchor="middle">3</text>
<text x="532.0" y="481.9" font-size="8.6">RA1</text>
<polygon points="491.5,480.5 485.7,476.5 478.3,476.5 471.1,480.5 478.3,483.5 485.7,483.5" fill="none"/>
<line x1="491.5" y1="480.5" x2="527.5" y2="480.5"/>
<text x="468.6" y="482.1" font-size="8.6" text-anchor="end">RA1_2</text>
<text x="517.6" y="492.2" font-size="8.4" text-anchor="middle">4</text>
<text x="532.0" y="494.9" font-size="8.6">RA2</text>
<polygon points="491.5,494.5 485.7,490.5 478.3,490.5 471.1,494.5 478.3,497.5 485.7,497.5" fill="none"/>
<line x1="491.5" y1="494.5" x2="527.5" y2="494.5"/>
<text x="468.6" y="496.1" font-size="8.6" text-anchor="end">RA2_2</text>
<text x="517.6" y="506.2" font-size="8.4" text-anchor="middle">5</text>
<text x="532.0" y="509.9" font-size="8.6">RA3</text>
<polygon points="491.5,508.5 485.7,504.5 478.3,504.5 471.1,508.5 478.3,511.5 485.7,511.5" fill="none"/>
<line x1="491.5" y1="508.5" x2="527.5" y2="508.5"/>
<text x="468.6" y="510.1" font-size="8.6" text-anchor="end">RA3_2</text>
<text x="517.6" y="520.2" font-size="8.4" text-anchor="middle">6</text>
<text x="532.0" y="523.9" font-size="8.6">RA4</text>
<polygon points="491.5,522.5 485.7,518.5 478.3,518.5 471.1,522.5 478.3,525.5 485.7,525.5" fill="none"/>
<line x1="491.5" y1="522.5" x2="527.5" y2="522.5"/>
<text x="468.6" y="524.1" font-size="8.6" text-anchor="end">RA4_2</text>
<text x="517.6" y="534.2" font-size="8.4" text-anchor="middle">7</text>
<text x="532.0" y="537.3" font-size="8.6">RA5</text>
<polygon points="491.5,536.5 485.7,532.5 478.3,532.5 471.1,536.5 478.3,539.5 485.7,539.5" fill="none"/>
<line x1="491.5" y1="536.5" x2="527.5" y2="536.5"/>
<text x="468.6" y="538.1" font-size="8.6" text-anchor="end">RA5_2</text>
<text x="517.6" y="569.2" font-size="8.4" text-anchor="middle">9</text>
<text x="532.0" y="572.9" font-size="8.6">OSC1</text>
<polygon points="491.4,572.0 485.9,568.5 470.4,568.5 470.4,575.5 485.9,575.5" fill="none"/>
<line x1="491.4" y1="571.5" x2="527.5" y2="571.5"/>
<text x="468.6" y="573.7" font-size="8.6" text-anchor="end">OSC1_2</text>
<text x="517.6" y="597.2" font-size="8.4" text-anchor="middle">10</text>
<text x="532.0" y="600.9" font-size="8.6">RA6/OSC2</text>
<polygon points="492.5,596.5 476.7,596.5 471.0,600.0 476.7,603.5 492.5,603.5" fill="none"/>
<line x1="492.5" y1="599.5" x2="527.5" y2="599.5"/>
<text x="468.6" y="601.7" font-size="8.6" text-anchor="end">RA6_2</text>
<text x="517.6" y="626.2" font-size="8.4" text-anchor="middle">8</text>
<text x="532.0" y="629.9" font-size="8.6">V<tspan font-size="8.60">ss</tspan></text>
<text x="517.6" y="640.2" font-size="8.4" text-anchor="middle">19</text>
<text x="532.0" y="643.2" font-size="8.6">V<tspan font-size="8.60">ss</tspan></text>
<line x1="531" y1="437.5" x2="555.6" y2="437.5"/>
<line x1="477" y1="628.5" x2="527.5" y2="628.5"/>
<line x1="477" y1="642.5" x2="527.5" y2="642.5"/>
<line x1="477.5" y1="628" x2="477.5" y2="664"/>
<circle cx="477.5" cy="642.5" r="1.4" fill="#000" stroke="none"/>
<line x1="470" y1="663.50" x2="485" y2="663.50"/>
<line x1="472" y1="665.50" x2="483" y2="665.50"/>
<line x1="474" y1="667.50" x2="481" y2="667.50"/>
<line x1="476" y1="669.50" x2="479" y2="669.50"/>
<text x="638.8" y="421" font-size="8.4">21</text>
<text x="631.4" y="424.9" font-size="8.6" text-anchor="end">RB0/INT0</text>
<line x1="634.5" y1="423.5" x2="657.0" y2="423.5"/>
<polygon points="657.0,423.5 663.3,419.5 671.8,419.5 678.2,423.5 671.8,426.5 663.3,426.5" fill="none"/>
<text x="684.0" y="426.1" font-size="8.6">RB0_2</text>
<text x="638.8" y="435" font-size="8.4">22</text>
<text x="631.4" y="438.9" font-size="8.6" text-anchor="end">RB1/INT1</text>
<line x1="634.5" y1="437.5" x2="657.0" y2="437.5"/>
<polygon points="657.0,437.5 663.3,433.5 671.8,433.5 678.2,437.5 671.8,440.5 663.3,440.5" fill="none"/>
<text x="684.0" y="439.8" font-size="8.6">RB1_2</text>
<text x="638.8" y="449" font-size="8.4">23</text>
<text x="631.4" y="452.9" font-size="8.6" text-anchor="end">RB2/CANTX</text>
<line x1="634.5" y1="451.5" x2="656.5" y2="451.5"/>
<polygon points="656.5,448.5 671.5,448.5 678.3,452.0 671.5,455.5 656.5,455.5" fill="none"/>
<text x="684.0" y="454.0" font-size="8.6">RB2_2</text>
<text x="638.8" y="464" font-size="8.4">24</text>
<text x="631.4" y="466.9" font-size="8.6" text-anchor="end">RB3/CANRX</text>
<line x1="634.5" y1="466.5" x2="657.0" y2="466.5"/>
<polygon points="657.0,466.5 663.2,462.5 677.5,462.5 677.5,469.5 663.2,469.5" fill="none"/>
<text x="684.0" y="467.8" font-size="8.6">RB3_2</text>
<text x="638.8" y="478" font-size="8.4">25</text>
<text x="631.4" y="481.9" font-size="8.6" text-anchor="end">RB4</text>
<line x1="634.5" y1="480.5" x2="657.0" y2="480.5"/>
<polygon points="657.0,480.5 663.3,476.5 671.8,476.5 678.2,480.5 671.8,483.5 663.3,483.5" fill="none"/>
<text x="684.0" y="481.9" font-size="8.6">RB4_2</text>
<text x="638.8" y="492" font-size="8.4">26</text>
<text x="631.4" y="494.9" font-size="8.6" text-anchor="end">RB5/PGM</text>
<line x1="634.5" y1="494.5" x2="657.0" y2="494.5"/>
<polygon points="657.0,494.5 663.3,490.5 671.8,490.5 678.2,494.5 671.8,497.5 663.3,497.5" fill="none"/>
<text x="684.0" y="495.8" font-size="8.6">RB5_2</text>
<text x="638.8" y="506" font-size="8.4">27</text>
<text x="631.4" y="509.9" font-size="8.6" text-anchor="end">RB6/PGC</text>
<line x1="634.5" y1="508.5" x2="657.0" y2="508.5"/>
<polygon points="657.0,508.5 663.3,504.5 671.8,504.5 678.2,508.5 671.8,511.5 663.3,511.5" fill="none"/>
<text x="684.0" y="509.6" font-size="8.6">RB6_2</text>
<text x="638.8" y="520" font-size="8.4">28</text>
<text x="631.4" y="523.9" font-size="8.6" text-anchor="end">RB7/PGD</text>
<line x1="634.5" y1="522.5" x2="657.0" y2="522.5"/>
<polygon points="657.0,522.5 663.3,518.5 671.8,518.5 678.2,522.5 671.8,525.5 663.3,525.5" fill="none"/>
<text x="684.0" y="523.8" font-size="8.6">RB7_2</text>
<text x="638.8" y="541" font-size="8.4">11</text>
<text x="631.4" y="544.9" font-size="8.6" text-anchor="end">RC0</text>
<line x1="634.5" y1="543.5" x2="657.0" y2="543.5"/>
<polygon points="657.0,543.5 663.3,539.5 671.8,539.5 678.2,543.5 671.8,546.5 663.3,546.5" fill="none"/>
<text x="684.0" y="546.1" font-size="8.6">RC0_2</text>
<text x="638.8" y="555" font-size="8.4">12</text>
<text x="631.4" y="558.9" font-size="8.6" text-anchor="end">RC1</text>
<line x1="634.5" y1="557.5" x2="657.0" y2="557.5"/>
<polygon points="657.0,557.5 663.3,553.5 671.8,553.5 678.2,557.5 671.8,560.5 663.3,560.5" fill="none"/>
<text x="684.0" y="559.8" font-size="8.6">RC1_2</text>
<text x="638.8" y="569" font-size="8.4">13</text>
<text x="631.4" y="572.9" font-size="8.6" text-anchor="end">RC2</text>
<line x1="634.5" y1="571.5" x2="657.0" y2="571.5"/>
<polygon points="657.0,571.5 663.3,567.5 671.8,567.5 678.2,571.5 671.8,574.5 663.3,574.5" fill="none"/>
<text x="684.0" y="573.8" font-size="8.6">RC2_2</text>
<text x="638.8" y="583" font-size="8.4">14</text>
<text x="631.4" y="586.9" font-size="8.6" text-anchor="end">RC3</text>
<line x1="634.5" y1="585.5" x2="657.0" y2="585.5"/>
<polygon points="657.0,585.5 663.3,581.5 671.8,581.5 678.2,585.5 671.8,588.5 663.3,588.5" fill="none"/>
<text x="684.0" y="587.8" font-size="8.6">RC3_2</text>
<text x="638.8" y="598" font-size="8.4">15</text>
<text x="631.4" y="601.2" font-size="8.6" text-anchor="end">RC4</text>
<line x1="634.5" y1="600.5" x2="657.0" y2="600.5"/>
<polygon points="657.0,600.5 663.3,596.5 671.8,596.5 678.2,600.5 671.8,603.5 663.3,603.5" fill="none"/>
<text x="684.0" y="601.9" font-size="8.6">RC4_2</text>
<text x="638.8" y="612" font-size="8.4">16</text>
<text x="631.4" y="615.9" font-size="8.6" text-anchor="end">RC5</text>
<line x1="634.5" y1="614.5" x2="657.0" y2="614.5"/>
<polygon points="657.0,614.5 663.3,610.5 671.8,610.5 678.2,614.5 671.8,617.5 663.3,617.5" fill="none"/>
<text x="684.0" y="615.8" font-size="8.6">RC5_2</text>
<text x="638.8" y="626" font-size="8.4">17</text>
<text x="631.4" y="629.6" font-size="8.6" text-anchor="end">RC6</text>
<line x1="634.5" y1="628.5" x2="656.5" y2="628.5"/>
<polygon points="656.5,624.5 671.5,624.5 678.3,628.5 671.5,631.5 656.5,631.5" fill="none"/>
<text x="684.0" y="629.6" font-size="8.6">RC6_2</text>
<text x="638.8" y="640" font-size="8.4">18</text>
<text x="631.4" y="643.1" font-size="8.6" text-anchor="end">RC7</text>
<line x1="634.5" y1="642.5" x2="657.0" y2="642.5"/>
<polygon points="657.0,642.5 663.2,638.5 677.5,638.5 677.5,645.5 663.2,645.5" fill="none"/>
<text x="684.0" y="643.8" font-size="8.6">RC7_2</text>
</g>
</svg>
</body></html>
